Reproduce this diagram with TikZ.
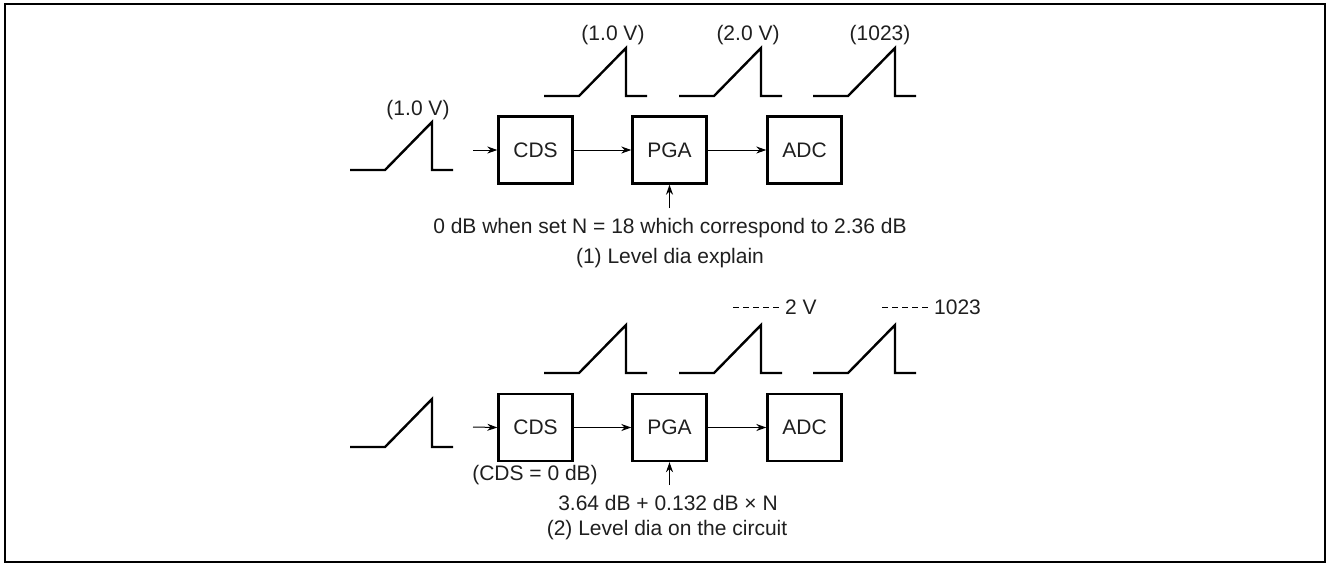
\documentclass[tikz,border=0pt]{standalone}
\usepackage{fontspec}
\setmainfont{Liberation Sans}
\usetikzlibrary{arrows.meta}
\begin{document}
\begin{tikzpicture}[x=1pt,y=-1pt,
  txt/.style={inner sep=0pt,font=\fontsize{21}{25}\selectfont,text=black!88},
  blk/.style={draw,line width=2.4pt,minimum width=74pt,minimum height=67pt,inner sep=0pt,font=\fontsize{21}{25}\selectfont,text=black!88},
  conn/.style={line width=1pt,-{Stealth[length=10pt,width=7pt]}},
  wavestyle/.style={line width=2.4pt,line join=miter},
  dashl/.style={line width=0.8pt,dash pattern=on 6pt off 4pt},
  wave/.pic={\draw[wavestyle] (0,0) -- (35,0) -- (82,-48) -- (82,0) -- (103,0);}
]
\useasboundingbox (0,0) rectangle (1327,565);
\draw[line width=2pt] (5,4) rectangle (1325,562);

% ---- top section ----
\pic at (350,170) {wave};
\pic at (544,96) {wave};
\pic at (679,96) {wave};
\pic at (813,96) {wave};
\node[txt] (lin1) at (418,110) {(1.0 V)};
\node[txt] (lc1) at (613,35) {(1.0 V)};
\node[txt] (lp1) at (748,35) {(2.0 V)};
\node[txt] (la1) at (880,35) {(1023)};

\node[blk] (cds1) at (535.5,150) {CDS};
\node[blk] (pga1) at (669.5,150) {PGA};
\node[blk] (adc1) at (804.5,150) {ADC};
\coordinate (in1) at (473,150);
\coordinate (g1) at (669.5,208);
\draw[conn] (in1) -- (cds1.west);
\draw[conn] (cds1) -- (pga1);
\draw[conn] (pga1) -- (adc1);
\draw[conn] (g1) -- (pga1.south);
\node[txt] (t1) at (670,228) {0 dB when set N = 18 which correspond to 2.36 dB};
\node[txt] (c1) at (670,258) {(1) Level dia explain};

% ---- bottom section ----
\pic at (350,447) {wave};
\pic at (544,373) {wave};
\pic at (679,373) {wave};
\pic at (813,373) {wave};
\coordinate (d1a) at (733,307);
\coordinate (d1b) at (782,307);
\coordinate (d2a) at (882,307);
\coordinate (d2b) at (931,307);
\draw[dashl] (d1a) -- (d1b);
\draw[dashl] (d2a) -- (d2b);
\node[txt,anchor=west] (lp2) at (785,307) {2 V};
\node[txt,anchor=west] (la2) at (934,307) {1023};

\node[blk] (cds2) at (535.5,427.5) {CDS};
\node[blk] (pga2) at (669.5,427.5) {PGA};
\node[blk] (adc2) at (804.5,427.5) {ADC};
\coordinate (in2) at (473,427);
\coordinate (g2) at (669.5,485);
\draw[conn] (in2) -- (cds2.west);
\draw[conn] (cds2) -- (pga2);
\draw[conn] (pga2) -- (adc2);
\draw[conn] (g2) -- (pga2.south);
\node[txt] (cdsg) at (535,475) {(CDS = 0 dB)};
\node[txt] (t2) at (668,503) {3.64 dB + 0.132 dB × N};
\node[txt] (c2) at (667,530) {(2) Level dia on the circuit};
\end{tikzpicture}
\end{document}
